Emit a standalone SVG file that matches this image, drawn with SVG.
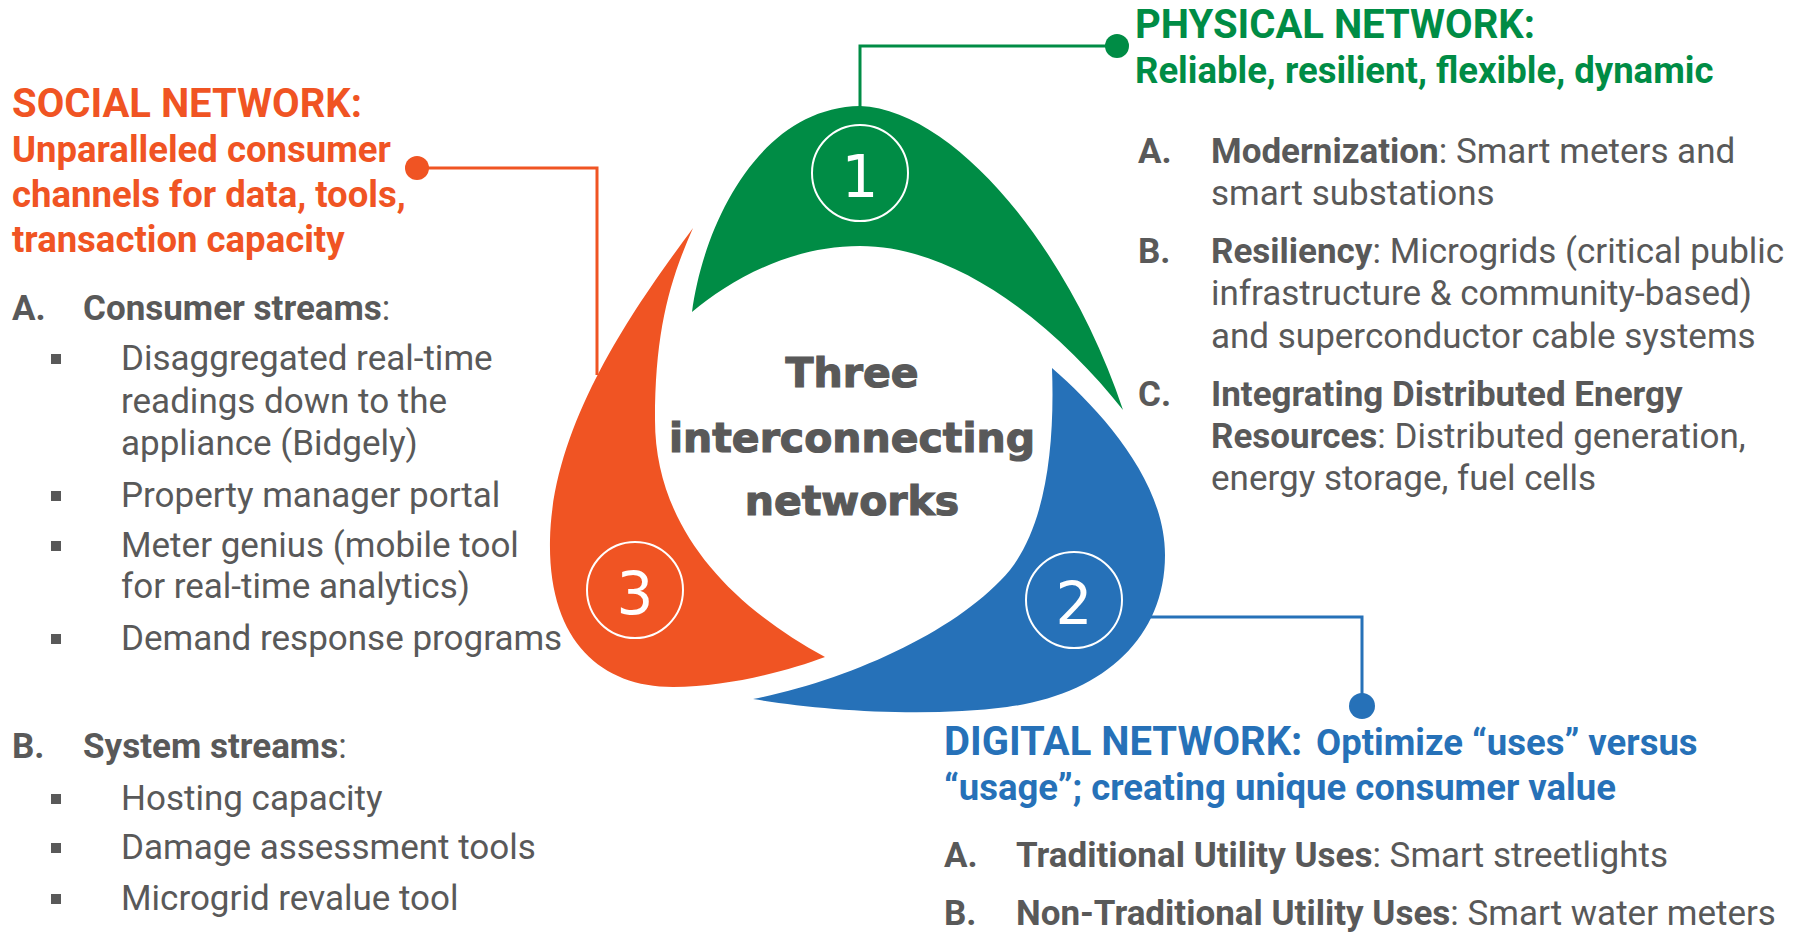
<svg xmlns="http://www.w3.org/2000/svg" width="1808" height="933" viewBox="0 0 1808 933">
<style>
.t{font-family:Roboto,"Liberation Sans",sans-serif;}
.body{font-size:35px;fill:#595959;}
.b{font-weight:700;}
.h1{font-size:40px;font-weight:700;}
.h2{font-size:36.5px;font-weight:700;}
.org{fill:#F05423;}
.grn{fill:#008C45;}
.blu{fill:#2671B8;}
.conn{fill:none;stroke-width:3;}
.ring{fill:none;stroke:#ffffff;stroke-width:2;}
.num{font-family:"DejaVu Sans",Verdana,sans-serif;font-size:58px;fill:#ffffff;text-anchor:middle;}
.center{font-family:"DejaVu Sans",Verdana,sans-serif;font-weight:700;font-size:41px;fill:#595959;stroke:#595959;stroke-width:1.2;text-anchor:middle;}
.sq{fill:#595959;}
</style>
<rect width="1808" height="933" fill="#ffffff"/>

<g id="connectors">
  <polyline class="conn" stroke="#008C45" points="860,115 860,46 1117,46"/>
  <circle cx="1117" cy="46" r="12" fill="#008C45"/>
  <polyline class="conn" stroke="#F05423" points="417,168 597,168 597,375"/>
  <circle cx="417" cy="168" r="12" fill="#F05423"/>
  <polyline class="conn" stroke="#2671B8" points="1140,617 1362,617 1362,706"/>
  <circle cx="1362" cy="706" r="13" fill="#2671B8"/>
</g>

<g id="node-physical">
  <path class="grn" d="M692,312 C703,228 757,108 860,106 C955,110 1070,250 1123,410 C1060,330 960,246 860,246 C790,246 730,280 692,312 Z"/>
  <circle class="ring" cx="860" cy="173" r="48"/>
  <text class="num" x="860" y="197">1</text>
</g>

<g id="node-digital">
  <path class="blu" d="M1052,368 C1100,410 1165,480 1165,555 C1165,640 1100,695 1007,707 C920,718 820,710 753,699 C850,680 960,630 1010,570 C1045,525 1055,450 1052,368 Z"/>
  <circle class="ring" cx="1074" cy="600" r="48"/>
  <text class="num" x="1074" y="624">2</text>
</g>

<g id="node-social">
  <path class="org" d="M693,228 C640,300 552,420 550,540 C548,640 600,687 673,687 C730,687 790,670 825,657 C720,600 655,520 655,420 C655,330 670,280 693,228 Z"/>
  <circle class="ring" cx="635" cy="590" r="48"/>
  <text class="num" x="635" y="614">3</text>
</g>

<g id="center-label">
  <text class="center" x="852" y="387">Three</text>
  <text class="center" x="852" y="452">interconnecting</text>
  <text class="center" x="852" y="515">networks</text>
</g>

<g id="text-social" class="t">
  <text class="h1 org" x="12" y="117">SOCIAL NETWORK:</text>
  <text class="h2 org" x="12" y="162">Unparalleled consumer</text>
  <text class="h2 org" x="12" y="207">channels for data, tools,</text>
  <text class="h2 org" x="12" y="252">transaction capacity</text>
  <text class="body" y="320"><tspan class="b" x="12">A.</tspan><tspan class="b" x="83">Consumer streams</tspan>:</text>
  <rect class="sq" x="51" y="354" width="10" height="10"/>
  <text class="body" x="121" y="370">Disaggregated real-time</text>
  <text class="body" x="121" y="413">readings down to the</text>
  <text class="body" x="121" y="455">appliance (Bidgely)</text>
  <rect class="sq" x="51" y="491" width="10" height="10"/>
  <text class="body" x="121" y="507">Property manager portal</text>
  <rect class="sq" x="51" y="541" width="10" height="10"/>
  <text class="body" x="121" y="557">Meter genius (mobile tool</text>
  <text class="body" x="121" y="598">for real-time analytics)</text>
  <rect class="sq" x="51" y="634" width="10" height="10"/>
  <text class="body" x="121" y="650">Demand response programs</text>
  <text class="body" y="758"><tspan class="b" x="12">B.</tspan><tspan class="b" x="83">System streams</tspan>:</text>
  <rect class="sq" x="51" y="794" width="10" height="10"/>
  <text class="body" x="121" y="810">Hosting capacity</text>
  <rect class="sq" x="51" y="843" width="10" height="10"/>
  <text class="body" x="121" y="859">Damage assessment tools</text>
  <rect class="sq" x="51" y="894" width="10" height="10"/>
  <text class="body" x="121" y="910">Microgrid revalue tool</text>
</g>

<g id="text-physical" class="t">
  <text class="h1 grn" x="1135" y="38">PHYSICAL NETWORK:</text>
  <text class="h2 grn" x="1135" y="83">Reliable, resilient, flexible, dynamic</text>
  <text class="body" y="163"><tspan class="b" x="1138">A.</tspan><tspan class="b" x="1211">Modernization</tspan>: Smart meters and</text>
  <text class="body" x="1211" y="205">smart substations</text>
  <text class="body" y="263"><tspan class="b" x="1138">B.</tspan><tspan class="b" x="1211">Resiliency</tspan>: Microgrids (critical public</text>
  <text class="body" x="1211" y="305">infrastructure &amp; community-based)</text>
  <text class="body" x="1211" y="348">and superconductor cable systems</text>
  <text class="body" y="406"><tspan class="b" x="1138">C.</tspan><tspan class="b" x="1211">Integrating Distributed Energy</tspan></text>
  <text class="body" y="448"><tspan class="b" x="1211">Resources</tspan>: Distributed generation,</text>
  <text class="body" x="1211" y="490">energy storage, fuel cells</text>
</g>

<g id="text-digital" class="t">
  <text class="blu" y="755"><tspan class="h1" x="944">DIGITAL NETWORK:</tspan><tspan class="h2" x="1316">Optimize “uses” versus</tspan></text>
  <text class="h2 blu" x="944" y="800">“usage”; creating unique consumer value</text>
  <text class="body" y="867"><tspan class="b" x="944">A.</tspan><tspan class="b" x="1016">Traditional Utility Uses</tspan>: Smart streetlights</text>
  <text class="body" y="925"><tspan class="b" x="944">B.</tspan><tspan class="b" x="1016">Non-Traditional Utility Uses</tspan>: Smart water meters</text>
</g>
</svg>
